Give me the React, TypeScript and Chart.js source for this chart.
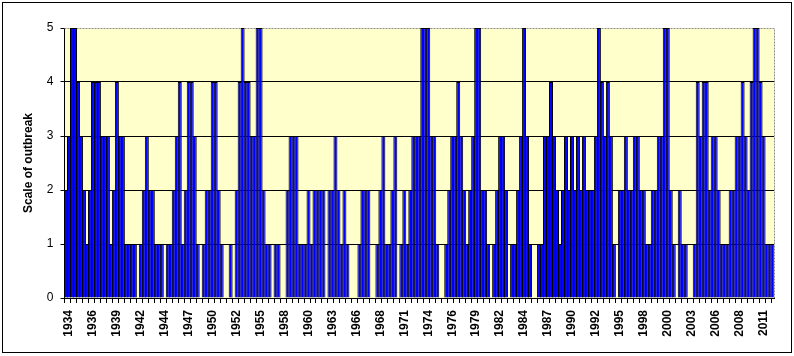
import React, { useEffect, useRef } from 'react';
import { Chart, registerables } from 'chart.js';

Chart.register(...registerables);

// Three periods per year, starting with the first period of 1934
const firstYear = 1934;
const periodsPerYear = 3;
const labelEvery = 8;

const tickYears = [
  '1934', '1936', '1939', '1942', '1944', '1947', '1950', '1952', '1955', '1958',
  '1960', '1963', '1966', '1968', '1971', '1974', '1976', '1979', '1982', '1984',
  '1987', '1990', '1992', '1995', '1998', '2000', '2003', '2006', '2008', '2011',
];

const outbreakScale = [
  2, 3, 5, 5, 4, 3, 2, 1, 2, 4,
  4, 4, 3, 3, 3, 1, 2, 4, 3, 3,
  1, 1, 1, 1, 0, 1, 2, 3, 2, 2,
  1, 1, 1, 0, 1, 1, 2, 3, 4, 1,
  2, 4, 4, 3, 1, 0, 1, 2, 2, 4,
  4, 2, 1, 0, 0, 1, 0, 2, 4, 5,
  4, 4, 3, 3, 5, 5, 2, 1, 1, 0,
  1, 1, 0, 0, 2, 3, 3, 3, 1, 1,
  1, 2, 1, 2, 2, 2, 2, 0, 2, 2,
  3, 2, 1, 2, 1, 0, 0, 0, 1, 2,
  2, 2, 0, 0, 1, 2, 3, 1, 1, 2,
  3, 0, 1, 2, 1, 2, 3, 3, 3, 5,
  5, 5, 3, 3, 1, 0, 0, 1, 2, 3,
  3, 4, 3, 2, 1, 2, 3, 5, 5, 2,
  2, 1, 0, 1, 2, 3, 3, 2, 0, 1,
  1, 2, 3, 5, 3, 1, 0, 0, 1, 1,
  3, 3, 4, 3, 2, 1, 2, 3, 2, 3,
  2, 3, 2, 3, 2, 2, 2, 3, 5, 4,
  3, 4, 3, 1, 0, 2, 2, 3, 2, 2,
  3, 3, 2, 2, 1, 1, 2, 2, 3, 3,
  5, 5, 2, 1, 0, 2, 1, 1, 0, 0,
  1, 4, 3, 4, 4, 2, 3, 3, 2, 1,
  1, 1, 2, 2, 3, 3, 4, 3, 2, 4,
  5, 5, 4, 3, 1, 1, 1,
];

const yMin = 0;
const yMax = 5;

const periods = outbreakScale.map(
  (_, i) => `${firstYear + Math.floor(i / periodsPerYear)}-${(i % periodsPerYear) + 1}`
);

const FONT = "'Liberation Sans', Arial, Helvetica, sans-serif";

const plotAreaPlugin = {
  id: 'plotArea',
  beforeDraw(chart: any) {
    const { ctx, chartArea: a } = chart;
    ctx.save();
    ctx.fillStyle = '#FFFFCC';
    ctx.fillRect(a.left, a.top, a.right - a.left, a.bottom - a.top);
    ctx.restore();
  },
  beforeDatasetsDraw(chart: any) {
    const { ctx, chartArea: a } = chart;
    const top = Math.round(a.top) + 0.5;
    const right = Math.floor(a.right) + 0.5;
    ctx.save();
    ctx.strokeStyle = '#8c8c8c';
    ctx.lineWidth = 1;
    ctx.setLineDash([2, 1]);
    ctx.beginPath();
    ctx.moveTo(a.left, top);
    ctx.lineTo(right, top);
    ctx.lineTo(right, a.bottom);
    ctx.stroke();
    ctx.restore();
  },
};

export default function App() {
  const canvasRef = useRef<HTMLCanvasElement | null>(null);

  useEffect(() => {
    const canvas = canvasRef.current;
    if (!canvas) return;
    const chart = new Chart(canvas, {
      type: 'bar',
      data: {
        labels: periods,
        datasets: [
          {
            data: outbreakScale,
            backgroundColor: '#0000FF',
            borderColor: '#000000',
            borderWidth: 1,
            borderSkipped: 'start',
            inflateAmount: 0,
            categoryPercentage: 1,
            barPercentage: 4 / 3,
          } as any,
        ],
      },
      options: {
        animation: false,
        responsive: false,
        devicePixelRatio: 1,
        layout: { padding: { left: 0, right: 18.5, top: 28, bottom: 0 } },
        plugins: {
          legend: { display: false },
          tooltip: { enabled: false },
        },
        scales: {
          x: {
            type: 'category',
            offset: true,
            grid: {
              display: true,
              drawOnChartArea: false,
              drawTicks: true,
              tickLength: 5,
              offset: true,
              color: (ctx: any) => (ctx.index % 2 === 0 ? '#000' : 'rgba(0,0,0,0)'),
              tickColor: (ctx: any) => (ctx.index % 2 === 0 ? '#000' : 'rgba(0,0,0,0)'),
            },
            border: { display: true, color: '#000', width: 1 },
            ticks: {
              autoSkip: false,
              minRotation: 90,
              maxRotation: 90,
              padding: 7,
              labelOffset: 3,
              color: '#000',
              font: { family: FONT, size: 12, weight: 'bold' },
              callback: (_v: any, index: number) =>
                index % labelEvery === 0 ? tickYears[index / labelEvery] ?? '' : '',
            },
            afterFit: (s: any) => {
              s.height = 58;
            },
          },
          y: {
            min: yMin,
            max: yMax,
            ticks: {
              stepSize: 1,
              padding: 7,
              color: '#000',
              font: { family: FONT, size: 12 },
            },
            grid: {
              color: (ctx: any) =>
                ctx.tick && ctx.tick.value === yMax ? 'rgba(0,0,0,0)' : '#000',
              tickColor: '#000',
              tickLength: 4,
              drawTicks: true,
            },
            border: { display: true, color: '#000', width: 1 },
            title: {
              display: true,
              text: 'Scale of outbreak',
              color: '#000',
              font: { family: FONT, size: 12, weight: 'bold' },
              padding: { top: 21, bottom: 0 },
            },
            afterFit: (s: any) => {
              s.width = 64.5;
            },
          },
        },
      } as any,
      plugins: [plotAreaPlugin],
    });
    return () => chart.destroy();
  }, []);

  return (
    <div style={{ position: 'absolute', left: 0, top: 0, width: 794, height: 356, background: '#fff' }}>
      <canvas ref={canvasRef} width={794} height={356} style={{ display: 'block', width: 794, height: 356 }} />
      <div
        style={{
          position: 'absolute',
          left: 2,
          top: 2,
          width: 790,
          height: 351,
          border: '1px solid #000',
          boxSizing: 'border-box',
          pointerEvents: 'none',
        }}
      />
    </div>
  );
}
